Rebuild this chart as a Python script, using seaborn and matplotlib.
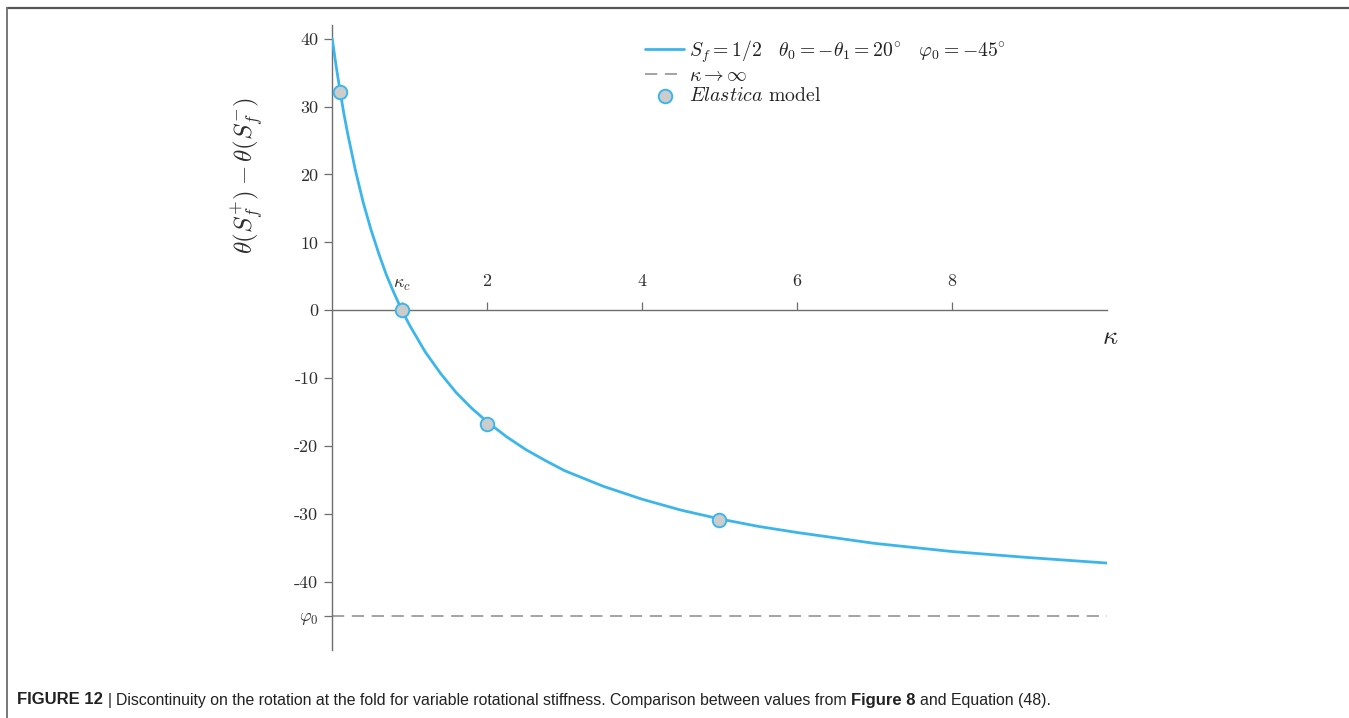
import matplotlib
matplotlib.use("Agg")
import matplotlib.pyplot as plt
import seaborn as sns
import pandas as pd
from matplotlib.lines import Line2D

# ---------------- data ----------------
kappa_curve = [0.0, 0.05, 0.1, 0.15, 0.2, 0.3, 0.4, 0.5, 0.6, 0.7, 0.8, 0.9, 1.0,
               1.2, 1.4, 1.6, 1.8, 2.0, 2.25, 2.5, 2.75, 3.0, 3.5, 4.0, 4.5, 5.0,
               5.5, 6.0, 7.0, 8.0, 9.0, 10.0]
theta_curve = [40.0, 36.0, 32.4, 29.0, 26.0, 20.6, 15.9, 11.9, 8.4, 5.2, 2.5, 0.0, -2.2,
               -6.1, -9.3, -12.1, -14.4, -16.4, -18.6, -20.5, -22.1, -23.6, -25.9, -27.8,
               -29.4, -30.7, -31.8, -32.7, -34.3, -35.5, -36.4, -37.2]
kappa_elastica = [0.1, 0.9, 2.0, 5.0]
theta_elastica = [32.2, 0.0, -16.7, -30.9]
phi0 = -45.0
x_ticks = [2, 4, 6, 8]
x_tick_labels = ["2", "4", "6", "8"]
y_ticks = [40, 30, 20, 10, 0, -10, -20, -30, -40, -45]
y_tick_labels = ["40", "30", "20", "10", "0", "-10", "-20", "-30", "-40", r"$\varphi_0$"]
kappa_c = 0.9

legend_labels = [r"$S_f=1/2\quad\theta_0=-\theta_1=20^{\circ}\quad\varphi_0=-45^{\circ}$",
                 r"$\kappa\rightarrow\infty$",
                 r"$Elastica$ model"]
caption_parts = [("FIGURE 12", "bold"), ("|", "normal"),
                 ("Discontinuity on the rotation at the fold for variable rotational stiffness. "
                  "Comparison between values from", "normal"),
                 ("Figure 8", "bold"), ("and Equation (48).", "normal")]

# ---------------- style ----------------
sns.set_theme(style="white")
plt.rcParams["font.family"] = ["cmr10", "DejaVu Serif"]
plt.rcParams["mathtext.fontset"] = "cm"
plt.rcParams["axes.unicode_minus"] = False
plt.rcParams["axes.formatter.use_mathtext"] = True

BLUE = "#3cb6ea"
AXC = "#6e6e6e"
TXT = "#2e2e2e"

W, H = 1349, 718
fig = plt.figure(figsize=(W / 100, H / 100), dpi=100)
fig.patch.set_facecolor("white")

left_px, right_px = 332.2, 1106.7
top_px, bot_px = 25.0, 650.0
ax = fig.add_axes([left_px / W, 1 - bot_px / H, (right_px - left_px) / W, (bot_px - top_px) / H])
ax.set_facecolor("none")

df_curve = pd.DataFrame({"kappa": kappa_curve, "theta": theta_curve})
df_pts = pd.DataFrame({"kappa": kappa_elastica, "theta": theta_elastica})

sns.lineplot(data=df_curve, x="kappa", y="theta", ax=ax, color=BLUE, lw=2.0,
             label=legend_labels[0], zorder=3, sort=True)
ax.axhline(phi0, color="#8a8a8a", lw=1.1, dashes=(8, 5), label=legend_labels[1], zorder=2)
sns.scatterplot(data=df_pts, x="kappa", y="theta", ax=ax, s=95, color="#cccccc",
                edgecolor=BLUE, linewidth=1.4, label=legend_labels[2], zorder=4)

ax.set_xlim(0, 10)
ax.set_ylim(-50, 42)

for side in ["top", "right"]:
    ax.spines[side].set_visible(False)
ax.spines["bottom"].set_position(("data", 0))
ax.spines["left"].set_position(("data", 0))
for side in ["bottom", "left"]:
    ax.spines[side].set_color(AXC)
    ax.spines[side].set_linewidth(1.0)

# x ticks: pointing up, labels above the axis
ax.set_xticks(x_ticks + [kappa_c])
ax.set_xticklabels([])
ax.tick_params(axis="x", direction="in", length=6, width=0.9, color=AXC, bottom=True)
for xt, lab in zip(x_ticks, x_tick_labels):
    ax.text(xt, 4.3, lab, ha="center", va="center", fontsize=13, color=TXT)
ax.text(kappa_c, 3.7, r"$\kappa_c$", ha="center", va="center", fontsize=13, color=TXT)
ax.text(10.05, -3.9, r"$\kappa$", ha="center", va="center", fontsize=19, color=TXT)

# y ticks
ax.set_yticks(y_ticks)
ax.set_yticklabels(y_tick_labels)
ax.tick_params(axis="y", direction="out", length=6, width=0.9, color=AXC, left=True,
               labelsize=13, labelcolor=TXT, pad=4)
ax.set_xlabel("")
ax.set_ylabel(r"$\theta(S_f^{+})-\theta(S_f^{-})$", fontsize=18, color=TXT)
ax.yaxis.set_label_coords(-0.085, (bot_px - 175) / (bot_px - top_px))

# legend
leg = ax.legend(loc="upper left", bbox_to_anchor=(645 / W, 1 - 38 / H),
                bbox_transform=fig.transFigure, frameon=False, fontsize=14.2,
                handlelength=2.0, handletextpad=0.25, labelspacing=0.12, borderaxespad=0,
                borderpad=0)
for t in leg.get_texts():
    t.set_color("#222222")

# frame around figure (top & left)
fig.add_artist(Line2D([7 / W, 1], [1 - 8 / H, 1 - 8 / H], transform=fig.transFigure,
                      color="#555555", lw=1.6))
fig.add_artist(Line2D([7 / W, 7 / W], [0, 1 - 8 / H], transform=fig.transFigure,
                      color="#777777", lw=1.4))

# caption with mixed weights
renderer = fig.canvas.get_renderer()
cap_font = ["Liberation Sans Narrow", "Liberation Sans", "DejaVu Sans"]
cap_size = 11.4
x_cur = 17 / W
y_cap = 1 - 700 / H
probe = fig.text(0, 0, "a a", fontsize=cap_size, family=cap_font)
probe2 = fig.text(0, 0, "aa", fontsize=cap_size, family=cap_font)
space_w = (probe.get_window_extent(renderer).width - probe2.get_window_extent(renderer).width) / W
probe.remove()
probe2.remove()
for txt, weight in caption_parts:
    t = fig.text(x_cur, y_cap, txt, fontsize=cap_size + (0.6 if weight == "bold" else 0),
                 family=cap_font, weight=weight, color="#222222", ha="left", va="center")
    x_cur += t.get_window_extent(renderer).width / W + space_w

fig.savefig("out.png", dpi=100, facecolor="white")
